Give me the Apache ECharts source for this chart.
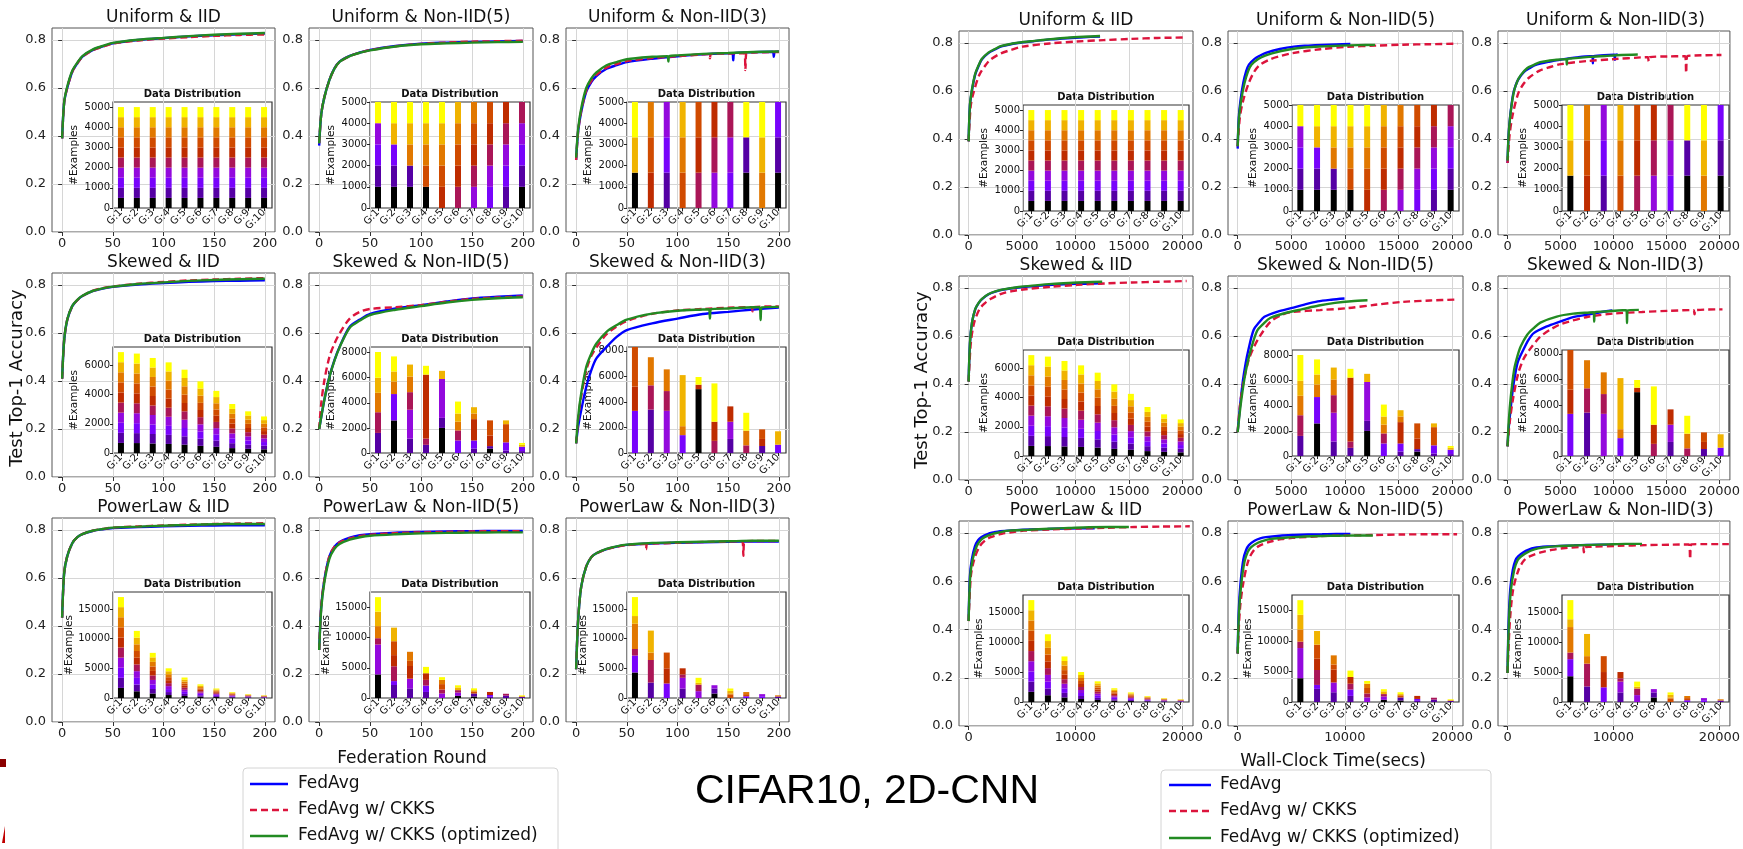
<!DOCTYPE html>
<html>
<head>
<meta charset="utf-8">
<script src="https://cdn.jsdelivr.net/npm/echarts@6/dist/echarts.min.js"></script>
<style>
  html, body { margin: 0; padding: 0; background: #fff; }
  #chart { width: 1743px; height: 849px; }
</style>
</head>
<body>
<div id="chart"></div>
<script>
// ---- data ----
const rounds = [0, 2, 5, 10, 15, 20, 30, 40, 50, 75, 100, 125, 150, 175, 200];
const methods = ['FedAvg', 'FedAvg w/ CKKS', 'FedAvg w/ CKKS (optimized)'];
const panelTitles = ['Uniform & IID', 'Uniform & Non-IID(5)', 'Uniform & Non-IID(3)',
  'Skewed & IID', 'Skewed & Non-IID(5)', 'Skewed & Non-IID(3)',
  'PowerLaw & IID', 'PowerLaw & Non-IID(5)', 'PowerLaw & Non-IID(3)'];

// test accuracy at each of `rounds`: [FedAvg, w/ CKKS, w/ CKKS (optimized)]
const accUniformIID = [
  [0.39, 0.54, 0.60, 0.668, 0.703, 0.731, 0.758, 0.773, 0.786, 0.800, 0.808, 0.815, 0.820, 0.824, 0.827],
  [0.39, 0.54, 0.60, 0.668, 0.703, 0.730, 0.757, 0.772, 0.785, 0.798, 0.806, 0.812, 0.817, 0.821, 0.823],
  [0.39, 0.54, 0.605, 0.672, 0.706, 0.733, 0.760, 0.775, 0.788, 0.801, 0.809, 0.816, 0.822, 0.826, 0.829]
];
const accUniformNon5 = [
  [0.36, 0.49, 0.56, 0.634, 0.682, 0.710, 0.734, 0.748, 0.759, 0.775, 0.785, 0.789, 0.792, 0.794, 0.796],
  [0.37, 0.49, 0.56, 0.632, 0.680, 0.708, 0.733, 0.747, 0.758, 0.774, 0.784, 0.789, 0.793, 0.795, 0.797],
  [0.37, 0.49, 0.56, 0.633, 0.681, 0.709, 0.733, 0.747, 0.757, 0.773, 0.782, 0.786, 0.789, 0.791, 0.792]
];
const accUniformNon3 = [
  [0.30, 0.42, 0.50, 0.585, 0.625, 0.650, 0.680, 0.695, 0.708, 0.722, 0.732, 0.740, 0.745, 0.749, 0.752],
  [0.30, 0.42, 0.505, 0.590, 0.630, 0.655, 0.685, 0.700, 0.712, 0.725, 0.733, 0.740, 0.744, 0.748, 0.750],
  [0.31, 0.43, 0.515, 0.600, 0.640, 0.665, 0.695, 0.708, 0.720, 0.730, 0.736, 0.742, 0.746, 0.750, 0.752]
];
const accSkewedIID = [
  [0.41, 0.57, 0.654, 0.712, 0.737, 0.754, 0.774, 0.785, 0.792, 0.802, 0.808, 0.813, 0.816, 0.818, 0.820],
  [0.41, 0.57, 0.654, 0.712, 0.737, 0.754, 0.776, 0.787, 0.794, 0.805, 0.813, 0.819, 0.823, 0.826, 0.829],
  [0.41, 0.57, 0.655, 0.713, 0.738, 0.755, 0.775, 0.786, 0.793, 0.804, 0.811, 0.817, 0.821, 0.824, 0.826]
];
const accSkewedNon5 = [
  [0.20, 0.25, 0.32, 0.417, 0.487, 0.542, 0.626, 0.656, 0.680, 0.702, 0.716, 0.731, 0.744, 0.751, 0.756],
  [0.20, 0.306, 0.40, 0.50, 0.556, 0.598, 0.660, 0.688, 0.700, 0.708, 0.716, 0.730, 0.742, 0.748, 0.752],
  [0.20, 0.25, 0.32, 0.415, 0.485, 0.540, 0.622, 0.652, 0.675, 0.697, 0.712, 0.727, 0.738, 0.745, 0.749]
];
const accSkewedNon3 = [
  [0.14, 0.21, 0.278, 0.376, 0.445, 0.494, 0.542, 0.584, 0.612, 0.640, 0.660, 0.679, 0.688, 0.698, 0.706],
  [0.14, 0.24, 0.335, 0.445, 0.505, 0.540, 0.595, 0.627, 0.650, 0.680, 0.694, 0.700, 0.705, 0.708, 0.711],
  [0.14, 0.25, 0.348, 0.459, 0.515, 0.556, 0.605, 0.633, 0.656, 0.681, 0.693, 0.698, 0.702, 0.707, 0.709]
];
const accPowerIID = [
  [0.435, 0.62, 0.69, 0.745, 0.770, 0.783, 0.796, 0.803, 0.808, 0.812, 0.815, 0.817, 0.819, 0.820, 0.820],
  [0.435, 0.62, 0.69, 0.745, 0.770, 0.783, 0.797, 0.804, 0.810, 0.815, 0.819, 0.822, 0.825, 0.827, 0.828],
  [0.435, 0.62, 0.69, 0.745, 0.770, 0.783, 0.797, 0.804, 0.810, 0.814, 0.818, 0.821, 0.824, 0.825, 0.825]
];
const accPowerNon5 = [
  [0.30, 0.48, 0.59, 0.69, 0.73, 0.750, 0.768, 0.778, 0.783, 0.789, 0.792, 0.794, 0.795, 0.796, 0.796],
  [0.30, 0.48, 0.59, 0.69, 0.73, 0.748, 0.765, 0.775, 0.780, 0.787, 0.790, 0.792, 0.794, 0.795, 0.795],
  [0.30, 0.47, 0.58, 0.68, 0.722, 0.742, 0.760, 0.770, 0.776, 0.782, 0.786, 0.788, 0.789, 0.790, 0.790]
];
const accPowerNon3 = [
  [0.22, 0.426, 0.564, 0.648, 0.687, 0.703, 0.720, 0.731, 0.738, 0.744, 0.747, 0.749, 0.751, 0.752, 0.752],
  [0.22, 0.426, 0.564, 0.648, 0.687, 0.703, 0.720, 0.730, 0.737, 0.743, 0.747, 0.750, 0.752, 0.754, 0.754],
  [0.22, 0.426, 0.564, 0.648, 0.687, 0.703, 0.721, 0.732, 0.739, 0.746, 0.749, 0.751, 0.753, 0.755, 0.755]
];
const accPanels = [accUniformIID, accUniformNon5, accUniformNon3, accSkewedIID, accSkewedNon5,
  accSkewedNon3, accPowerIID, accPowerNon5, accPowerNon3];

// single-round drops: [panel, method, round, level around, low]
const accDips = [
  [2, 1, 167, 0.745, 0.675], [2, 0, 155, 0.745, 0.715], [2, 0, 195, 0.751, 0.730],
  [2, 2, 91, 0.733, 0.710], [2, 1, 132, 0.741, 0.724],
  [5, 2, 132, 0.699, 0.660], [5, 2, 182, 0.707, 0.654], [5, 1, 174, 0.708, 0.690],
  [8, 1, 165, 0.753, 0.692], [8, 1, 69, 0.742, 0.720]
];

// wall-clock seconds at the last round, per panel
const endTimeFedAvg = [12300, 10500, 10400, 12500, 9960, 9900, 11800, 10500, 10000];
const endTimeCkks = [20200, 20500, 20200, 20400, 20500, 20300, 20700, 20450, 20900];
const endTimeCkksOpt = [12300, 12800, 12300, 12500, 12100, 12400, 15000, 12600, 12700];

const roundTicks = [0, 50, 100, 150, 200];
const timeTicks = [0, 5000, 10000, 15000, 20000];
const timeTicksWide = [0, 10000, 20000];
const accTicks = [0, 0.2, 0.4, 0.6, 0.8];

// data distribution insets: per group G:1..G:10, examples of class 0..9
const groupNames = ['G:1', 'G:2', 'G:3', 'G:4', 'G:5', 'G:6', 'G:7', 'G:8', 'G:9', 'G:10'];
const distUniformIID = [
  [500, 500, 500, 500, 500, 500, 500, 500, 500, 500],
  [500, 500, 500, 500, 500, 500, 500, 500, 500, 500],
  [500, 500, 500, 500, 500, 500, 500, 500, 500, 500],
  [500, 500, 500, 500, 500, 500, 500, 500, 500, 500],
  [500, 500, 500, 500, 500, 500, 500, 500, 500, 500],
  [500, 500, 500, 500, 500, 500, 500, 500, 500, 500],
  [500, 500, 500, 500, 500, 500, 500, 500, 500, 500],
  [500, 500, 500, 500, 500, 500, 500, 500, 500, 500],
  [500, 500, 500, 500, 500, 500, 500, 500, 500, 500],
  [500, 500, 500, 500, 500, 500, 500, 500, 500, 500]
];
const distUniformNon5 = [
  [1000, 1000, 1000, 1000, 0, 0, 0, 0, 0, 1000],
  [1000, 1000, 1000, 0, 0, 0, 0, 0, 1000, 1000],
  [1000, 1000, 0, 0, 0, 0, 0, 1000, 1000, 1000],
  [1000, 0, 0, 0, 0, 0, 1000, 1000, 1000, 1000],
  [0, 0, 0, 0, 0, 1000, 1000, 1000, 1000, 1000],
  [0, 0, 0, 0, 1000, 1000, 1000, 1000, 1000, 0],
  [0, 0, 0, 1000, 1000, 1000, 1000, 1000, 0, 0],
  [0, 0, 1000, 1000, 1000, 1000, 1000, 0, 0, 0],
  [0, 1000, 1000, 1000, 1000, 1000, 0, 0, 0, 0],
  [1000, 1000, 1000, 1000, 1000, 0, 0, 0, 0, 0]
];
const distUniformNon3 = [
  [1667, 0, 0, 0, 0, 0, 0, 0, 1667, 1666],
  [0, 0, 0, 0, 0, 1667, 1667, 1666, 0, 0],
  [0, 1667, 1667, 1666, 0, 0, 0, 0, 0, 0],
  [0, 0, 0, 0, 0, 0, 1667, 1667, 1666, 0],
  [0, 0, 0, 0, 1667, 1667, 1666, 0, 0, 0],
  [0, 0, 0, 1667, 1667, 1666, 0, 0, 0, 0],
  [0, 0, 1667, 1667, 1666, 0, 0, 0, 0, 0],
  [1667, 1667, 0, 0, 0, 0, 0, 0, 0, 1666],
  [0, 0, 0, 0, 0, 0, 0, 1667, 1667, 1666],
  [1667, 1667, 1666, 0, 0, 0, 0, 0, 0, 0]
];
const distSkewedIID = [
  [690, 690, 690, 690, 690, 690, 690, 690, 690, 690],
  [680, 680, 680, 680, 680, 680, 680, 680, 680, 680],
  [650, 650, 650, 650, 650, 650, 650, 650, 650, 650],
  [620, 620, 620, 620, 620, 620, 620, 620, 620, 620],
  [570, 570, 570, 570, 570, 570, 570, 570, 570, 570],
  [490, 490, 490, 490, 490, 490, 490, 490, 490, 490],
  [425, 425, 425, 425, 425, 425, 425, 425, 425, 425],
  [335, 335, 335, 335, 335, 335, 335, 335, 335, 335],
  [285, 285, 285, 285, 285, 285, 285, 285, 285, 285],
  [250, 250, 250, 250, 250, 250, 250, 250, 250, 250]
];
const distSkewedNon5 = [
  [0, 1600, 0, 0, 1650, 0, 0, 1550, 1200, 2050],
  [2600, 0, 2100, 0, 0, 0, 0, 1000, 800, 1200],
  [0, 1150, 0, 2300, 1400, 0, 0, 1250, 950, 0],
  [0, 650, 0, 0, 500, 5100, 0, 0, 0, 700],
  [2000, 800, 0, 3100, 0, 0, 0, 0, 650, 0],
  [0, 0, 1000, 0, 800, 0, 0, 700, 650, 950],
  [0, 350, 650, 0, 0, 1700, 0, 450, 500, 0],
  [350, 200, 0, 0, 0, 850, 1200, 0, 0, 0],
  [0, 200, 650, 0, 0, 0, 1450, 0, 300, 0],
  [0, 150, 350, 0, 0, 0, 0, 0, 150, 150]
];
const distSkewedNon3 = [
  [0, 0, 3300, 0, 0, 1900, 3100, 0, 0, 0],
  [0, 3400, 0, 0, 1900, 0, 0, 2200, 0, 0],
  [0, 0, 0, 3300, 1550, 0, 0, 1700, 0, 0],
  [0, 0, 1400, 0, 0, 0, 0, 700, 4000, 0],
  [5000, 0, 0, 0, 0, 350, 0, 0, 0, 600],
  [0, 0, 0, 0, 950, 1500, 0, 0, 0, 3000],
  [0, 1100, 0, 1350, 0, 1200, 0, 0, 0, 0],
  [0, 0, 0, 0, 600, 0, 0, 1150, 0, 1400],
  [0, 550, 0, 0, 0, 550, 750, 0, 0, 0],
  [0, 0, 650, 0, 0, 0, 0, 0, 1050, 0]
];
const distPowerIID = [
  [1700, 1700, 1700, 1700, 1700, 1700, 1700, 1700, 1700, 1700],
  [1130, 1130, 1130, 1130, 1130, 1130, 1130, 1130, 1130, 1130],
  [760, 760, 760, 760, 760, 760, 760, 760, 760, 760],
  [500, 500, 500, 500, 500, 500, 500, 500, 500, 500],
  [345, 345, 345, 345, 345, 345, 345, 345, 345, 345],
  [230, 230, 230, 230, 230, 230, 230, 230, 230, 230],
  [160, 160, 160, 160, 160, 160, 160, 160, 160, 160],
  [100, 100, 100, 100, 100, 100, 100, 100, 100, 100],
  [65, 65, 65, 65, 65, 65, 65, 65, 65, 65],
  [46, 46, 46, 46, 46, 46, 46, 46, 46, 46]
];
const distPowerNon5 = [
  [3900, 0, 0, 4950, 1050, 0, 0, 2000, 2400, 2400],
  [0, 2150, 650, 0, 2450, 1850, 2300, 0, 2250, 0],
  [0, 1600, 0, 1600, 0, 2100, 850, 1500, 0, 0],
  [0, 1000, 1050, 0, 950, 1100, 0, 0, 0, 1050],
  [0, 0, 0, 750, 650, 0, 900, 700, 0, 450],
  [350, 0, 0, 550, 400, 0, 0, 0, 450, 350],
  [250, 500, 0, 0, 0, 0, 350, 0, 200, 300],
  [0, 200, 300, 0, 0, 500, 0, 0, 0, 0],
  [0, 400, 0, 0, 300, 0, 0, 0, 0, 0],
  [0, 200, 0, 0, 0, 0, 0, 0, 150, 100]
];
const distPowerNon3 = [
  [4300, 0, 2850, 0, 1100, 0, 0, 4250, 1300, 3200],
  [0, 2600, 0, 0, 3800, 0, 0, 1250, 3700, 0],
  [0, 0, 2450, 0, 0, 2550, 2650, 0, 0, 0],
  [0, 1600, 0, 1800, 550, 1050, 0, 0, 0, 0],
  [0, 0, 0, 1150, 1100, 0, 0, 0, 300, 850],
  [750, 850, 0, 550, 0, 0, 0, 0, 0, 0],
  [0, 0, 0, 0, 0, 0, 550, 200, 450, 400],
  [0, 0, 300, 0, 0, 0, 350, 350, 0, 0],
  [0, 0, 300, 350, 0, 0, 0, 0, 0, 0],
  [0, 250, 0, 0, 0, 0, 0, 200, 0, 0]
];
const distPanels = [distUniformIID, distUniformNon5, distUniformNon3, distSkewedIID, distSkewedNon5,
  distSkewedNon3, distPowerIID, distPowerNon5, distPowerNon3];
const distMax = [5250, 5000, 5000, 7250, 8450, 8300, 17850, 17550, 17850];
const distTicks = [
  [0, 1000, 2000, 3000, 4000, 5000], [0, 1000, 2000, 3000, 4000, 5000], [0, 1000, 2000, 3000, 4000, 5000],
  [0, 2000, 4000, 6000], [0, 2000, 4000, 6000, 8000], [0, 2000, 4000, 6000, 8000],
  [0, 5000, 10000, 15000], [0, 5000, 10000, 15000], [0, 5000, 10000, 15000]
];

// ---- layout and styles ----
const methodColors = ['#0000ff', '#dc143c', '#228b22'];
const classColors = ['#000000', '#5500a4', '#7803fb', '#9309dd', '#aa1657',
  '#be2c00', '#d04b00', '#e17800', '#f0b300', '#ffff00'];
const leftCols = [[52, 275], [309, 533], [566, 789]];
const rightCols = [[959, 1193], [1228, 1463], [1498, 1733]];
const leftRows = [[28, 232], [273, 477], [518, 722]];
const rightRows = [[31, 235], [276, 480], [521, 726]];
const FONT = '"DejaVu Sans"';
const plain = v => String(v);

const grid = [], xAxis = [], yAxis = [], series = [], graphic = [];

function addText(x, y, str, font, extra) {
  const el = {
    type: 'text', x: x, y: y, silent: true,
    style: {
      text: str, font: font, fill: '#111',
      textAlign: 'center', textVerticalAlign: 'middle', align: 'center', verticalAlign: 'middle'
    }
  };
  if (extra && extra.style) Object.assign(el.style, extra.style);
  if (extra && extra.rotation) el.rotation = extra.rotation;
  graphic.push(el);
}

function linePoints(p, m, side) {
  const acc = accPanels[p][m];
  const ends = [endTimeFedAvg, endTimeCkks, endTimeCkksOpt][m];
  let pts = rounds.map((r, i) => [r, acc[i]]);
  accDips.filter(d => d[0] === p && d[1] === m).forEach(d => {
    pts.push([d[2] - 1, d[3]], [d[2], d[4]], [d[2] + 1, d[3]]);
  });
  pts.sort((a, b) => a[0] - b[0]);
  if (side === 1) {
    const last = rounds[rounds.length - 1];
    pts = pts.map(pt => [pt[0] * ends[p] / last, pt[1]]);
  }
  return pts;
}

function addPanel(p, side) {
  const col = p % 3, row = Math.floor(p / 3);
  const [x0, x1] = (side === 0 ? leftCols : rightCols)[col];
  const [y0, y1] = (side === 0 ? leftRows : rightRows)[row];

  // main accuracy axes
  const gi = grid.length;
  grid.push({left: x0, top: y0, width: x1 - x0, height: y1 - y0, show: true,
    borderColor: '#555', borderWidth: 1, backgroundColor: 'transparent'});
  const xt = side === 0 ? roundTicks : (row === 2 ? timeTicksWide : timeTicks);
  xAxis.push({
    type: 'value', gridIndex: gi,
    min: side === 0 ? -10 : -900, max: side === 0 ? 210 : 21000,
    axisLine: {show: false},
    axisTick: {show: true, length: 4, customValues: xt, lineStyle: {color: '#333'}},
    axisLabel: {customValues: xt, fontSize: 13, fontFamily: 'DejaVu Sans', color: '#222', margin: 5,
      formatter: plain},
    splitLine: {show: true, lineStyle: {color: '#d6d6d6', width: 1}}
  });
  yAxis.push({
    type: 'value', gridIndex: gi, min: 0, max: 0.85,
    axisLine: {show: false},
    axisTick: {show: true, length: 4, customValues: accTicks, lineStyle: {color: '#333'}},
    axisLabel: {customValues: accTicks, fontSize: 13, fontFamily: 'DejaVu Sans', color: '#222', margin: 6,
      formatter: v => v.toFixed(1)},
    splitLine: {show: true, lineStyle: {color: '#d6d6d6', width: 1}}
  });
  addText((x0 + x1) / 2, y0 - 10, panelTitles[p], '17px ' + FONT);

  // inset: data distribution
  const ix0 = x0 + (side === 0 ? 61 : 64), ix1 = x1 - (side === 0 ? 3 : 4);
  const iy0 = y0 + 74, iy1 = y1 - 24;
  const ii = grid.length;
  grid.push({left: ix0, top: iy0, width: ix1 - ix0, height: iy1 - iy0, show: true,
    borderColor: '#333', borderWidth: 1.2, backgroundColor: 'transparent'});
  xAxis.push({
    type: 'category', gridIndex: ii, data: groupNames,
    axisLine: {show: false},
    axisTick: {show: true, alignWithLabel: true, length: 3, lineStyle: {color: '#222'}},
    axisLabel: {interval: 0, rotate: 45, fontSize: 10, fontFamily: 'DejaVu Sans', color: '#111', margin: 3}
  });
  const wide = distMax[p] > 10000;
  yAxis.push({
    type: 'value', gridIndex: ii, min: 0, max: distMax[p],
    axisLine: {show: false},
    axisTick: {show: true, length: 3, customValues: distTicks[p], lineStyle: {color: '#222'}},
    axisLabel: {customValues: distTicks[p], fontSize: 10, fontFamily: 'DejaVu Sans', color: '#111', margin: 3,
      formatter: plain},
    splitLine: {show: false},
    name: '#Examples', nameLocation: 'middle', nameGap: wide ? 38 : 33,
    nameTextStyle: {fontSize: 10.5, fontFamily: 'DejaVu Sans', color: '#111'}
  });
  addText((ix0 + ix1) / 2, iy0 - 8, 'Data Distribution', 'bold 10px ' + FONT);
  const dist = distPanels[p];
  classColors.forEach((c, k) => {
    series.push({
      type: 'bar', xAxisIndex: ii, yAxisIndex: ii, stack: 'dist' + ii, barWidth: 6,
      data: dist.map(g => g[k]), itemStyle: {color: c}, silent: true
    });
  });

  // accuracy curves
  methods.forEach((name, m) => {
    series.push({
      type: 'line', name: name, xAxisIndex: gi, yAxisIndex: gi,
      data: linePoints(p, m, side), showSymbol: false, smooth: 0.3, silent: true,
      lineStyle: {color: methodColors[m], width: 2.4, type: m === 1 ? [7, 4] : 'solid'}
    });
  });
}

for (let side = 0; side < 2; side++) {
  for (let p = 0; p < 9; p++) addPanel(p, side);
}

// axis titles
addText(17, 378, 'Test Top-1 Accuracy', '18px ' + FONT, {rotation: Math.PI / 2});
addText(922, 380, 'Test Top-1 Accuracy', '18px ' + FONT, {rotation: Math.PI / 2});
addText(412, 759, 'Federation Round', '17px ' + FONT);
addText(1333, 762, 'Wall-Clock Time(secs)', '17px ' + FONT);
addText(867, 792, 'CIFAR10, 2D-CNN', '41px "Liberation Sans"', {style: {fill: '#000'}});

// legends
function legendBox(bx, by, bw, hx0, hx1, tx, ys) {
  graphic.push({type: 'rect', silent: true, shape: {x: bx, y: by, width: bw, height: 120, r: 4},
    style: {fill: '#fff', stroke: '#d4d4d4', lineWidth: 1}});
  methods.forEach((name, m) => {
    graphic.push({type: 'line', silent: true, shape: {x1: hx0, y1: ys[m], x2: hx1, y2: ys[m]},
      style: {stroke: methodColors[m], lineWidth: 2.5, lineDash: m === 1 ? [7, 4] : null}});
    addText(tx, ys[m], name, '17px ' + FONT,
      {style: {textAlign: 'left', align: 'left', fill: '#111'}});
  });
}
legendBox(243, 768, 315, 250, 288, 298, [784, 810, 836]);
legendBox(1161, 770, 330, 1169, 1211, 1220, [785, 811, 838]);

// slide edge marks
graphic.push({type: 'rect', silent: true, shape: {x: 0, y: 759, width: 6, height: 8}, style: {fill: '#8b0000'}});
graphic.push({type: 'polygon', silent: true, shape: {points: [[2, 843], [5, 826], [5, 843]]}, style: {fill: '#c00000'}});

const chart = echarts.init(document.getElementById('chart'));
chart.setOption({
  animation: false,
  backgroundColor: '#fff',
  grid: grid,
  xAxis: xAxis,
  yAxis: yAxis,
  series: series,
  graphic: graphic
});
</script>
</body>
</html>
